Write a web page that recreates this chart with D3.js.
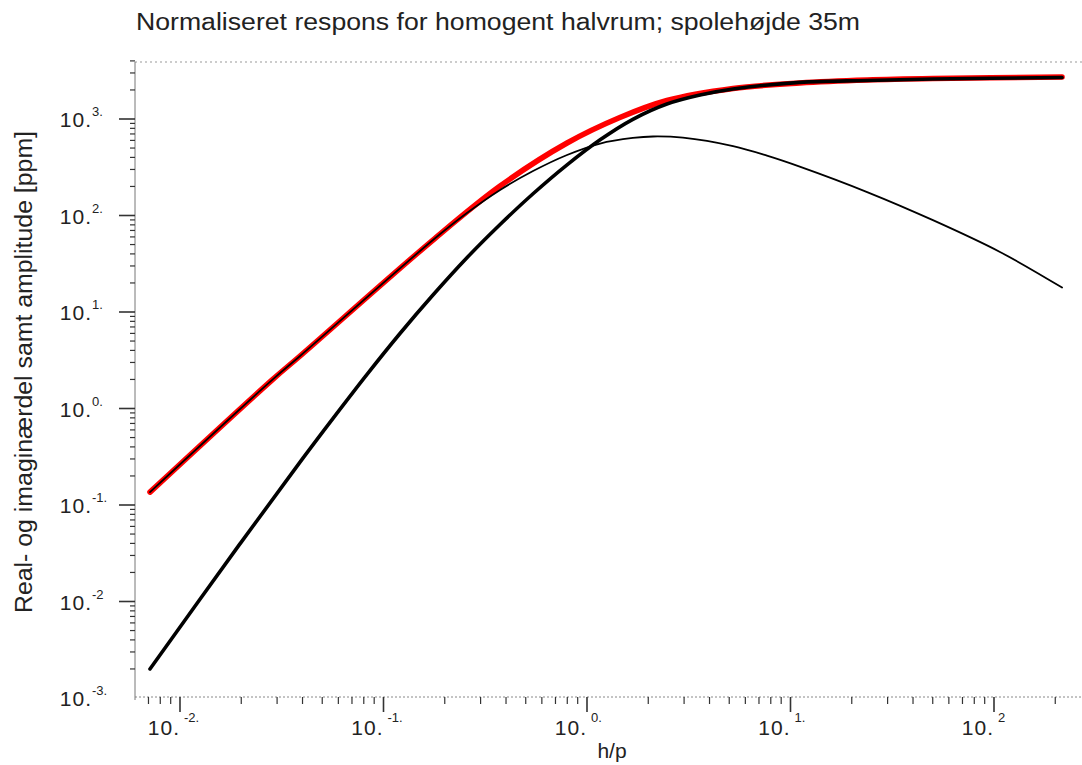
<!DOCTYPE html>
<html>
<head>
<meta charset="utf-8">
<script src="https://cdn.jsdelivr.net/npm/d3@7"></script>
<style>
  body { margin: 0; background: #fff; }
  text { font-family: "Liberation Sans", Arial, sans-serif; fill: #222; }
</style>
</head>
<body>
<div id="chart"></div>
<script>
// Values (h/p on x, response in ppm on y)
// amplitude (red)
const ampX  = [0.00712, 0.0283, 0.0389, 0.175, 0.374, 0.798, 1.45, 2.47, 5.22, 11.1, 23.8, 50.1, 216];
const ampY  = [0.136, 1.97, 3.50, 55.7, 202, 564, 1036, 1555, 2071, 2361, 2536, 2628, 2724];

// real part (thick black)
const realX = [0.00712, 0.0197, 0.0402, 0.0565, 0.0830, 0.1205, 0.175, 0.257, 0.374, 0.543, 0.798, 1.16, 1.68, 2.47, 3.59, 5.22, 11.1, 23.8, 50.1, 216];
const realY = [0.0020, 0.0395, 0.306, 0.791, 2.26, 5.99, 15.0, 36.5, 80.7, 168, 335, 609, 993, 1430, 1773, 2046, 2395, 2506, 2597, 2692];

// imaginary part (thin black)
const imagX = [0.00712, 0.0283, 0.0389, 0.175, 0.257, 0.374, 0.543, 0.798, 1.16, 1.68, 2.11, 2.96, 5.22, 7.66, 11.1, 23.8, 50.1, 107, 216];
const imagY = [0.136, 1.97, 3.50, 55.7, 106, 184, 289, 424, 557, 636, 659, 640, 523, 417, 321, 175, 89.5, 41.9, 17.9];

const xDecades = [-2, -1, 0, 1, 2];
const xExpLabels = ["-2.", "-1.", "0.", "1.", "2"];
const yDecades = [-3, -2, -1, 0, 1, 2, 3];
const yExpLabels = ["-3.", "-2", "-1.", "0.", "1.", "2.", "3."];

const title = "Normaliseret respons for homogent halvrum; spolehøjde 35m";
const yTitle = "Real- og imaginærdel samt amplitude [ppm]";
const xTitle = "h/p";

const width = 1082, height = 765;
const plot = { left: 135, right: 1082, top: 62, bottom: 697 };

const svg = d3.select("#chart").append("svg")
    .attr("width", width)
    .attr("height", height);

// log scales, one decade ~203.5px in x and ~96.5px in y
const x = d3.scaleLog().domain([1e-2, 1e2]).range([180, 994]);
const y = d3.scaleLog().domain([1e-3, 1e3]).range([698, 119]);

const xMin = x.invert(plot.left), xMax = x.invert(plot.right);
const yMin = y.invert(plot.bottom), yMax = y.invert(plot.top);

// frame: dotted top and bottom, solid left
svg.append("line")
    .attr("x1", plot.left).attr("x2", plot.right).attr("y1", plot.top).attr("y2", plot.top)
    .attr("stroke", "#999").attr("stroke-dasharray", "2,3");
svg.append("line")
    .attr("x1", plot.left).attr("x2", plot.right).attr("y1", plot.bottom).attr("y2", plot.bottom)
    .attr("stroke", "#888").attr("stroke-dasharray", "2,2");
svg.append("line")
    .attr("x1", plot.left).attr("x2", plot.left).attr("y1", plot.top).attr("y2", plot.bottom + 3)
    .attr("stroke", "#777");

// ticks: 1..9 per decade
const xTicks = [], yTicks = [];
d3.range(-3, 3).forEach(d => {
    for (let m = 1; m <= 9; m++) {
        const v = m * Math.pow(10, d);
        if (v >= xMin && v <= xMax) xTicks.push({ v, major: m === 1 });
    }
});
d3.range(-3, 4).forEach(d => {
    for (let m = 1; m <= 9; m++) {
        const v = m * Math.pow(10, d);
        if (v >= yMin * 0.999 && v <= yMax * 1.05) yTicks.push({ v, major: m === 1 });
    }
});

svg.append("g").selectAll("line").data(xTicks).join("line")
    .attr("x1", d => x(d.v)).attr("x2", d => x(d.v))
    .attr("y1", plot.bottom).attr("y2", d => plot.bottom + (d.major ? 15 : 7))
    .attr("stroke", "#333").attr("stroke-width", d => d.major ? 1.6 : 1.2);

svg.append("g").selectAll("line").data(yTicks).join("line")
    .attr("x1", d => plot.left - (d.major ? 16 : 5)).attr("x2", plot.left)
    .attr("y1", d => y(d.v)).attr("y2", d => y(d.v))
    .attr("stroke", "#333").attr("stroke-width", d => d.major ? 1.6 : 1.2);

// tick labels "10." with the exponent raised
const xLab = svg.append("g").selectAll("g").data(xDecades).join("g");
xLab.append("text")
    .attr("x", d => x(Math.pow(10, d))).attr("y", 735)
    .attr("text-anchor", "end")
    .attr("font-size", 21).attr("letter-spacing", 1)
    .text("10.");
xLab.append("text")
    .attr("x", d => x(Math.pow(10, d)) + 4).attr("y", 722)
    .attr("font-size", 13).attr("fill", "#444")
    .text((d, i) => xExpLabels[i]);

const yLab = svg.append("g").selectAll("g").data(yDecades).join("g");
yLab.append("text")
    .attr("x", 92).attr("y", d => y(Math.pow(10, d)) + 8)
    .attr("text-anchor", "end")
    .attr("font-size", 21).attr("letter-spacing", 1)
    .text("10.");
yLab.append("text")
    .attr("x", 92).attr("y", d => y(Math.pow(10, d)) - 3)
    .attr("font-size", 13).attr("fill", "#444")
    .text((d, i) => yExpLabels[i]);

// titles
svg.append("text")
    .attr("x", 136).attr("y", 30)
    .attr("font-size", 23)
    .attr("textLength", 724).attr("lengthAdjust", "spacingAndGlyphs")
    .text(title);

svg.append("text")
    .attr("transform", "translate(32,372) rotate(-90)")
    .attr("text-anchor", "middle")
    .attr("font-size", 23)
    .attr("textLength", 482).attr("lengthAdjust", "spacingAndGlyphs")
    .text(yTitle);

svg.append("text")
    .attr("x", 612).attr("y", 758)
    .attr("text-anchor", "middle")
    .attr("font-size", 21)
    .text(xTitle);

// curves
const line = d3.line()
    .x(d => x(d[0]))
    .y(d => y(d[1]))
    .curve(d3.curveCatmullRom.alpha(0.5));

const series = [
    { xs: ampX,  ys: ampY,  color: "#f00", w: 5.5 },
    { xs: realX, ys: realY, color: "#000", w: 3.6 },
    { xs: imagX, ys: imagY, color: "#000", w: 1.8 }
];

svg.append("g").selectAll("path").data(series).join("path")
    .attr("d", s => line(d3.zip(s.xs, s.ys)))
    .attr("fill", "none")
    .attr("stroke", s => s.color)
    .attr("stroke-width", s => s.w)
    .attr("stroke-linecap", "round")
    .attr("stroke-linejoin", "round");
</script>
</body>
</html>
